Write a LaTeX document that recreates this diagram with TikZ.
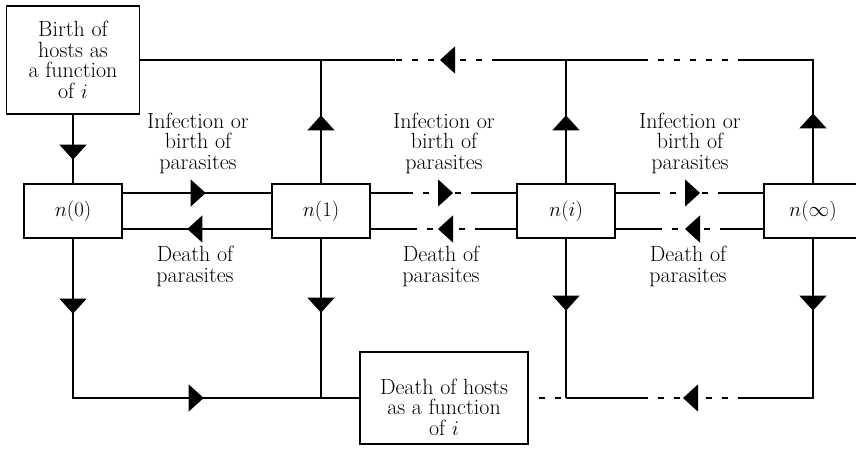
\documentclass[tikz,border=0pt]{standalone}
\usetikzlibrary{arrows.meta,decorations.markings}
\newcommand\mytri{\arrow{Triangle[width=27pt,length=15pt]}}
\begin{document}
\begin{tikzpicture}[x=1pt,y=-1pt,
  line width=1.3pt,
  every node/.style={font=\fontsize{22}{20.5}\selectfont},
  box/.style={draw, line width=1.3pt, inner sep=0pt, align=center},
  nbox/.style={box, minimum width=98pt, minimum height=54pt},
  lbl/.style={align=center, inner sep=0pt},
  dsh/.style={dash pattern=on 6pt off 10pt, dash phase=6pt},
  tri/.style={postaction={decorate}, decoration={markings, mark=at position #1 with {\mytri}}},
  tritwo/.style 2 args={postaction={decorate}, decoration={markings, mark=at position #1 with {\mytri}, mark=at position #2 with {\mytri}}},
]
\useasboundingbox (0,0) rectangle (856,448);

% boxes
\node[box, minimum width=133pt, minimum height=108pt] (birth) at (73,60) {Birth of\\hosts as\\a function\\of $i$};
\node[nbox] (n0) at (73,211) {$n(0)$};
\node[nbox] (n1) at (321,211) {$n(1)$};
\node[nbox] (ni) at (566,211) {$n(i)$};
\node[nbox] (ninf) at (813,211) {$n(\infty)$};
\node[box, minimum width=168pt] (death) at (444,398) {\rule{0pt}{42pt}Death of hosts\\as a function\\of $i$\rule[-9pt]{0pt}{9pt}};

% labels
\node[lbl] (inf1) at (198,143) {Infection or\\birth of\\parasites};
\node[lbl] (inf2) at (444,143) {Infection or\\birth of\\parasites};
\node[lbl] (inf3) at (690,143) {Infection or\\birth of\\parasites};
\node[lbl] (dp1) at (195,266.5) {Death of\\parasites};
\node[lbl] (dp2) at (441,266.5) {Death of\\parasites};
\node[lbl] (dp3) at (688,266.5) {Death of\\parasites};

% coordinates
\coordinate (c1) at (321,60);
\coordinate (ci) at (566,60);
\coordinate (cr) at (813,60);
\coordinate (t1) at (395,60);
\coordinate (t2) at (492,60);
\coordinate (t3) at (643,60);
\coordinate (t4) at (738,60);
\coordinate (b0) at (73,398);
\coordinate (b1) at (321,398);
\coordinate (bi) at (566,398);
\coordinate (br) at (813,398);
\coordinate (b3) at (642,398);
\coordinate (b4) at (738,398);
\coordinate (u2a) at (413,193);
\coordinate (u2b) at (475,193);
\coordinate (l2a) at (413,229);
\coordinate (l2b) at (475,229);
\coordinate (u3a) at (660,193);
\coordinate (u3b) at (720,193);
\coordinate (l3a) at (660,229);
\coordinate (l3b) at (720,229);

% birth flow
\draw[tri=45pt] (birth) -- (n0);
\draw[tri=68pt] (n1.north) -- (c1);
\draw[tri=68pt] (ni.north) -- (ci);
\draw[tri=70pt] (ninf.north) -- (cr) -- (t4);
\draw[dsh] (t4) -- (t3);
\draw (t3) -- (t2);
\draw[dsh, tri=52pt] (t2) -- (t1);
\draw (t1) -- (birth.east);

% parasite flows
\draw[tri=83pt] ([yshift=18pt]n0.east) -- ([yshift=18pt]n1.west);
\draw[tri=84pt] ([yshift=-18pt]n1.west) -- ([yshift=-18pt]n0.east);
\draw ([yshift=18pt]n1.east) -- (u2a);
\draw[dsh, tri=40pt] (u2a) -- (u2b);
\draw (u2b) -- ([yshift=18pt]ni.west);
\draw ([yshift=-18pt]ni.west) -- (l2b);
\draw[dsh, tri=37pt] (l2b) -- (l2a);
\draw (l2a) -- ([yshift=-18pt]n1.east);
\draw ([yshift=18pt]ni.east) -- (u3a);
\draw[dsh, tri=40pt] (u3a) -- (u3b);
\draw (u3b) -- ([yshift=18pt]ninf.west);
\draw ([yshift=-18pt]ninf.west) -- (l3b);
\draw[dsh, tri=35pt] (l3b) -- (l3a);
\draw (l3a) -- ([yshift=-18pt]ni.east);

% death flow
\draw[tritwo={75pt}{290pt}] (n0.south) -- (b0) -- (death.west);
\draw[tri=74pt] (n1.south) -- (b1);
\draw[tri=72pt] (ni.south) -- (bi);
\draw[tri=72pt] (ninf.south) -- (br) -- (b4);
\draw[dsh, tri=55pt] (b4) -- (b3);
\draw (b3) -- (bi);
\draw[dsh] (death.east) -- (bi);
\end{tikzpicture}
\end{document}
